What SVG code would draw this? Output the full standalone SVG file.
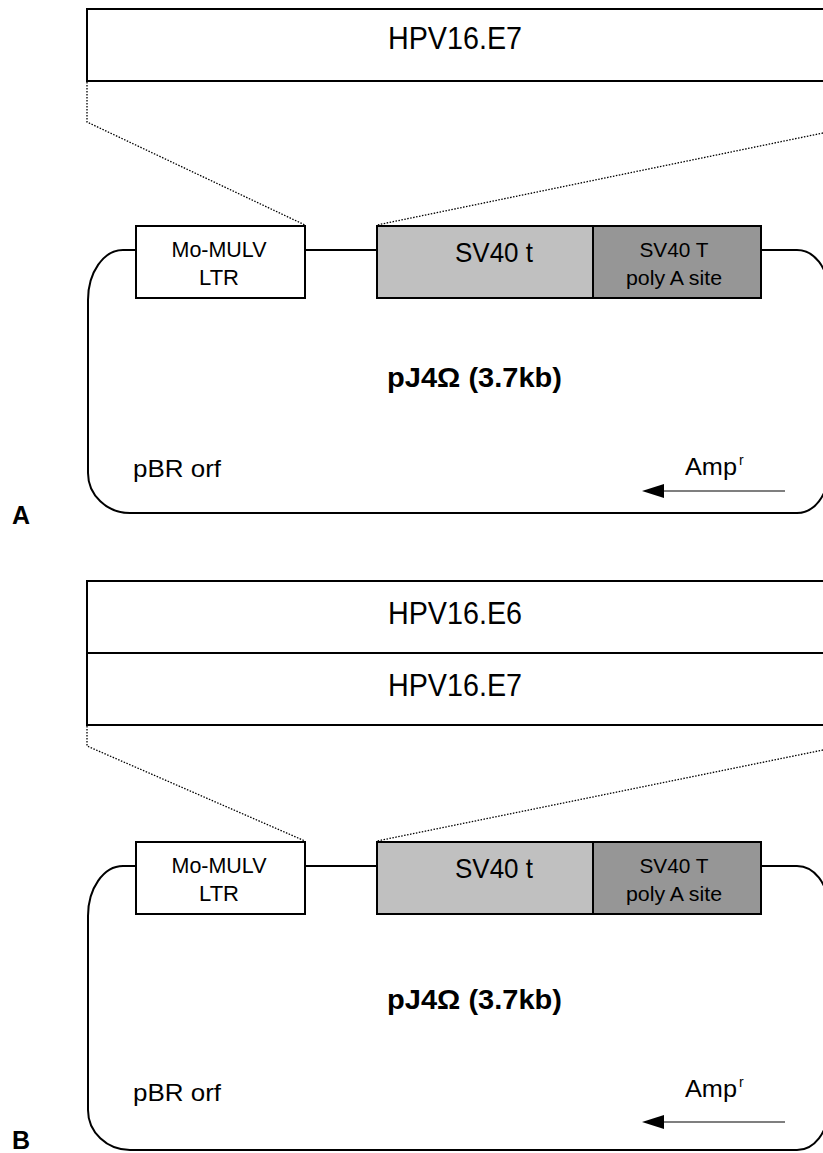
<svg xmlns="http://www.w3.org/2000/svg" width="823" height="1153" viewBox="0 0 823 1153">
  <style>
    .box { stroke: #000; stroke-width: 2; }
    .insert { fill: #fff; }
    .ltr { fill: #fff; }
    .sv40t { fill: #c0c0c0; }
    .sv40T { fill: #969696; }
    .wire { fill: none; stroke: #000; stroke-width: 2; }
    .dots { fill: none; stroke: #000; stroke-width: 1.3; stroke-dasharray: 1.5 1.5; }
    .thin { fill: none; stroke: #000; stroke-width: 1.2; }
    text { font-family: "Liberation Sans", Arial, sans-serif; fill: #000; }
    .big { font-size: 31px; text-anchor: middle; }
    .mid { font-size: 28px; text-anchor: middle; }
    .small { font-size: 22px; text-anchor: middle; }
    .tiny { font-size: 20px; text-anchor: middle; }
    .label { font-size: 24px; }
    .title { font-size: 27px; font-weight: bold; }
    .panel { font-size: 25px; font-weight: bold; }
  </style>

  <!-- ===== Panel A ===== -->
  <g id="insert-a-e7">
    <rect class="box insert" x="87" y="9" width="760" height="72"/>
    <text class="big" x="455" y="49" textLength="134" lengthAdjust="spacingAndGlyphs">HPV16.E7</text>
  </g>

  <g id="connectors-a">
    <polyline class="dots" points="87,82 87,122 305,225"/>
    <line class="dots" x1="823" y1="133" x2="377" y2="225"/>
    <path class="wire" d="M136,250 H123 A35,50 0 0 0 88,300 V473 A42,40 0 0 0 130,513 H797 A31,40 0 0 0 828,473 V290 A31,40 0 0 0 797,250 H761"/>
    <line class="wire" x1="305" y1="250" x2="377" y2="250"/>
    <line class="thin" x1="785" y1="491" x2="664" y2="491"/>
    <path d="M642,491 L664,484 L664,498 Z" fill="#000"/>
  </g>

  <g id="ltr-a">
    <rect class="box ltr" x="136" y="226" width="169" height="72"/>
    <text class="small" x="219" y="257" textLength="95" lengthAdjust="spacingAndGlyphs">Mo-MULV</text>
    <text class="small" x="219" y="285">LTR</text>
  </g>

  <g id="sv40-small-t-a">
    <rect class="box sv40t" x="377" y="226" width="216" height="72"/>
    <text class="mid" x="494" y="262" textLength="78" lengthAdjust="spacingAndGlyphs">SV40 t</text>
  </g>

  <g id="sv40-polya-a">
    <rect class="box sv40T" x="593" y="226" width="168" height="72"/>
    <text class="tiny" x="674" y="257" textLength="69" lengthAdjust="spacingAndGlyphs">SV40 T</text>
    <text class="tiny" x="674" y="285" textLength="96" lengthAdjust="spacingAndGlyphs">poly A site</text>
  </g>

  <g id="labels-a">
    <text class="title" x="387" y="387" textLength="175" lengthAdjust="spacingAndGlyphs">pJ4Ω (3.7kb)</text>
    <text class="label" x="133" y="477" textLength="88" lengthAdjust="spacingAndGlyphs">pBR orf</text>
    <text class="label" x="685" y="475" textLength="52" lengthAdjust="spacingAndGlyphs">Amp</text>
    <text x="739" y="465" font-size="14">r</text>
    <text class="panel" x="12" y="524">A</text>
  </g>

  <!-- ===== Panel B ===== -->
  <g id="insert-b-e6">
    <rect class="box insert" x="87" y="581" width="760" height="72"/>
    <text class="big" x="455" y="624" textLength="134" lengthAdjust="spacingAndGlyphs">HPV16.E6</text>
  </g>
  <g id="insert-b-e7">
    <rect class="box insert" x="87" y="653" width="760" height="72"/>
    <text class="big" x="455" y="696" textLength="134" lengthAdjust="spacingAndGlyphs">HPV16.E7</text>
  </g>

  <g id="connectors-b">
    <polyline class="dots" points="87,726 87,746 305,841"/>
    <line class="dots" x1="823" y1="750" x2="377" y2="841"/>
    <path class="wire" d="M136,866 H123 A35,50 0 0 0 88,916 V1110 A42,40 0 0 0 130,1150 H797 A31,40 0 0 0 828,1110 V906 A31,40 0 0 0 797,866 H761"/>
    <line class="wire" x1="305" y1="866" x2="377" y2="866"/>
    <line class="thin" x1="785" y1="1122" x2="664" y2="1122"/>
    <path d="M642,1122 L664,1115 L664,1129 Z" fill="#000"/>
  </g>

  <g id="ltr-b">
    <rect class="box ltr" x="136" y="842" width="169" height="72"/>
    <text class="small" x="219" y="873" textLength="95" lengthAdjust="spacingAndGlyphs">Mo-MULV</text>
    <text class="small" x="219" y="901">LTR</text>
  </g>

  <g id="sv40-small-t-b">
    <rect class="box sv40t" x="377" y="842" width="216" height="72"/>
    <text class="mid" x="494" y="878" textLength="78" lengthAdjust="spacingAndGlyphs">SV40 t</text>
  </g>

  <g id="sv40-polya-b">
    <rect class="box sv40T" x="593" y="842" width="168" height="72"/>
    <text class="tiny" x="674" y="873" textLength="69" lengthAdjust="spacingAndGlyphs">SV40 T</text>
    <text class="tiny" x="674" y="901" textLength="96" lengthAdjust="spacingAndGlyphs">poly A site</text>
  </g>

  <g id="labels-b">
    <text class="title" x="387" y="1009" textLength="175" lengthAdjust="spacingAndGlyphs">pJ4Ω (3.7kb)</text>
    <text class="label" x="133" y="1101" textLength="88" lengthAdjust="spacingAndGlyphs">pBR orf</text>
    <text class="label" x="685" y="1097" textLength="52" lengthAdjust="spacingAndGlyphs">Amp</text>
    <text x="739" y="1087" font-size="14">r</text>
    <text class="panel" x="12" y="1149">B</text>
  </g>
</svg>
